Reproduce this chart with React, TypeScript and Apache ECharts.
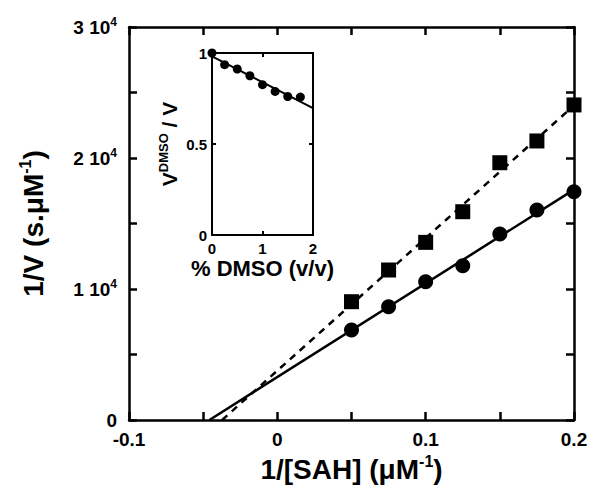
import React, { useEffect, useRef } from "react";
import * as echarts from "echarts";

// ---- data ----
const sahInv = [0.05, 0.075, 0.1, 0.125, 0.15, 0.175, 0.2];
const circleValues = [6870, 8650, 10560, 11780, 14200, 16030, 17430];
const squareValues = [9030, 11450, 13560, 15900, 19640, 21300, 24050];

const dmsoPct = [0, 0.25, 0.5, 0.75, 1.0, 1.25, 1.5, 1.75];
const dmsoRatio = [1.0, 0.936, 0.912, 0.875, 0.826, 0.789, 0.761, 0.758];

const mainXLabels = [-0.1, 0, 0.1, 0.2];
const mainYLabels = [0, 10000, 20000, 30000];
const insetXLabels = [0, 1, 2];
const insetYLabels = [0, 0.5, 1];

const FONT = "'Liberation Sans', Arial, Helvetica, sans-serif";

function fit(xs: number[], ys: number[]) {
  const n = xs.length;
  const mx = xs.reduce((a, b) => a + b, 0) / n;
  const my = ys.reduce((a, b) => a + b, 0) / n;
  let sxy = 0, sxx = 0;
  for (let i = 0; i < n; i++) {
    sxy += (xs[i] - mx) * (ys[i] - my);
    sxx += (xs[i] - mx) * (xs[i] - mx);
  }
  const slope = sxy / sxx;
  return { slope, intercept: my - slope * mx };
}

function near(a: number, b: number) {
  return Math.abs(a - b) < 1e-9;
}

export default function App() {
  const ref = useRef<HTMLDivElement>(null);
  useEffect(() => {
    if (!ref.current) return;
    const chart = echarts.init(ref.current, undefined, { renderer: "svg" });

    const fc = fit(sahInv, circleValues);
    const fs = fit(sahInv, squareValues);
    const fi = fit(dmsoPct, dmsoRatio);
    const xEnd = 0.2;
    const circleLine = [
      [-fc.intercept / fc.slope, 0],
      [xEnd, fc.intercept + fc.slope * xEnd],
    ];
    const squareLine = [
      [-fs.intercept / fs.slope, 0],
      [xEnd, fs.intercept + fs.slope * xEnd],
    ];
    const insetLine = [
      [0, fi.intercept],
      [2, fi.intercept + fi.slope * 2],
    ];

    const axisLine = { show: true, onZero: false, lineStyle: { color: "#000", width: 2.5 } };
    const mainTick = { show: true, inside: true, length: 8, lineStyle: { color: "#000", width: 2.5 } };
    const insetAxisLine = { show: true, onZero: false, lineStyle: { color: "#000", width: 2 } };
    const insetTick = { show: true, inside: true, length: 4, lineStyle: { color: "#000", width: 2 } };
    const noLabel = { show: false };

    const supRich = (size: number, supSize: number) => ({
      b: { fontFamily: FONT, fontWeight: "bold", fontSize: size, color: "#000", lineHeight: size + 4 },
      s: { fontFamily: FONT, fontWeight: "bold", fontSize: supSize, color: "#000", lineHeight: supSize, verticalAlign: "top" },
    });

    const option: any = {
      animation: false,
      backgroundColor: "#fff",
      grid: [
        { left: 129, top: 27, width: 445, height: 393 },
        { left: 212, top: 53, width: 101, height: 182 },
      ],
      xAxis: [
        {
          type: "value", gridIndex: 0, min: -0.1, max: 0.2, interval: 0.05, position: "bottom",
          axisLine, axisTick: mainTick, splitLine: { show: false },
          axisLabel: {
            margin: 10, fontFamily: FONT, fontWeight: "bold", fontSize: 19, color: "#000",
            formatter: (v: number) => (mainXLabels.some((t) => near(t, v)) ? String(Math.round(v * 10) / 10) : ""),
          },
          name: "{b|1/[SAH] (\u03bcM}{s|-1}{b|)}", nameLocation: "middle", nameGap: 32,
          nameTextStyle: { rich: supRich(28, 16) },
        },
        {
          type: "value", gridIndex: 0, min: -0.1, max: 0.2, interval: 0.05, position: "top",
          axisLine, axisTick: mainTick, axisLabel: noLabel, splitLine: { show: false },
        },
        {
          type: "value", gridIndex: 1, min: 0, max: 2, interval: 1, position: "bottom",
          axisLine: insetAxisLine, axisTick: insetTick, splitLine: { show: false },
          axisLabel: {
            margin: 6, fontFamily: FONT, fontWeight: "bold", fontSize: 15, color: "#000",
            formatter: (v: number) => (insetXLabels.some((t) => near(t, v)) ? String(v) : ""),
          },
          name: "% DMSO (v/v)", nameLocation: "middle", nameGap: 22,
          nameTextStyle: { fontFamily: FONT, fontWeight: "bold", fontSize: 22, color: "#000" },
        },
        {
          type: "value", gridIndex: 1, min: 0, max: 2, interval: 1, position: "top",
          axisLine: insetAxisLine, axisTick: insetTick, axisLabel: noLabel, splitLine: { show: false },
        },
      ],
      yAxis: [
        {
          type: "value", gridIndex: 0, min: 0, max: 30000, interval: 5000, position: "left",
          axisLine, axisTick: mainTick, splitLine: { show: false },
          axisLabel: {
            margin: 12,
            formatter: (v: number) => {
              if (!mainYLabels.some((t) => near(t, v))) return "";
              if (v === 0) return "{b|0}";
              return `{b|${v / 10000} 10}{s|4}`;
            },
            rich: supRich(19, 12),
          },
          name: "{b|1/V (s.\u03bcM}{s|-1}{b|)}", nameLocation: "middle", nameGap: 80, nameRotate: 90,
          nameTextStyle: { rich: supRich(28, 16) },
        },
        {
          type: "value", gridIndex: 0, min: 0, max: 30000, interval: 5000, position: "right",
          axisLine, axisTick: mainTick, axisLabel: noLabel, splitLine: { show: false },
        },
        {
          type: "value", gridIndex: 1, min: 0, max: 1, interval: 0.5, position: "left",
          axisLine: insetAxisLine, axisTick: insetTick, splitLine: { show: false },
          axisLabel: {
            margin: 5, fontFamily: FONT, fontWeight: "bold", fontSize: 15, color: "#000",
            formatter: (v: number) => (insetYLabels.some((t) => near(t, v)) ? String(v) : ""),
          },
          name: "{b|V}{s|DMSO}{b| / V}", nameLocation: "middle", nameGap: 30, nameRotate: 90,
          nameTextStyle: { rich: supRich(21, 13) },
        },
        {
          type: "value", gridIndex: 1, min: 0, max: 1, interval: 0.5, position: "right",
          axisLine: insetAxisLine, axisTick: insetTick, axisLabel: noLabel, splitLine: { show: false },
        },
      ],
      series: [
        {
          type: "line", xAxisIndex: 0, yAxisIndex: 0, data: squareLine, symbol: "none",
          lineStyle: { color: "#000", width: 2.5, type: [7, 6] }, silent: true,
        },
        {
          type: "line", xAxisIndex: 0, yAxisIndex: 0, data: circleLine, symbol: "none",
          lineStyle: { color: "#000", width: 2.5 }, silent: true,
        },
        {
          type: "scatter", xAxisIndex: 0, yAxisIndex: 0, symbol: "rect", symbolSize: 15,
          itemStyle: { color: "#000", opacity: 1 }, data: sahInv.map((x, i) => [x, squareValues[i]]),
        },
        {
          type: "scatter", xAxisIndex: 0, yAxisIndex: 0, symbol: "circle", symbolSize: 15,
          itemStyle: { color: "#000", opacity: 1 }, data: sahInv.map((x, i) => [x, circleValues[i]]),
        },
        {
          type: "line", xAxisIndex: 2, yAxisIndex: 2, data: insetLine, symbol: "none",
          lineStyle: { color: "#000", width: 2 }, silent: true,
        },
        {
          type: "scatter", xAxisIndex: 2, yAxisIndex: 2, symbol: "circle", symbolSize: 9,
          itemStyle: { color: "#000", opacity: 1 }, data: dmsoPct.map((x, i) => [x, dmsoRatio[i]]),
        },
      ],
    };
    chart.setOption(option);
    return () => chart.dispose();
  }, []);
  return (
    <div
      ref={ref}
      style={{ position: "fixed", left: 0, top: 0, width: 601, height: 503, background: "#fff" }}
    />
  );
}
